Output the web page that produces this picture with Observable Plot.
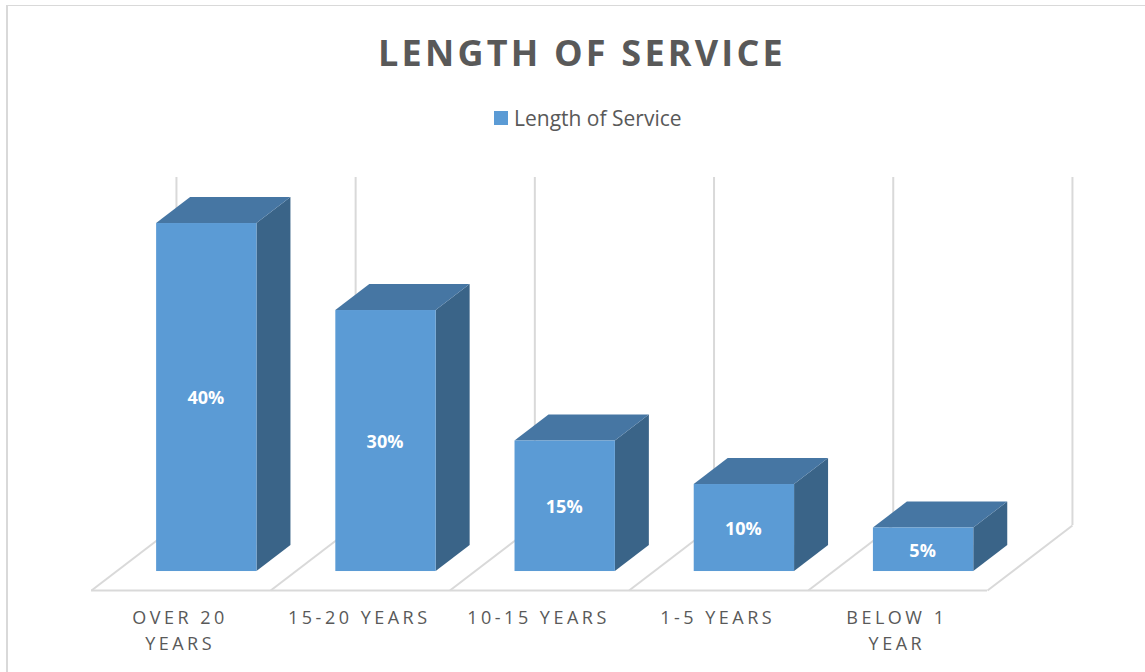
<!DOCTYPE html>
<html>
<head>
<meta charset="utf-8">
<script src="https://cdn.jsdelivr.net/npm/d3@7"></script>
<script src="https://cdn.jsdelivr.net/npm/@observablehq/plot@0.6"></script>
<style>
  html, body { margin: 0; padding: 0; background: #fff; overflow: hidden; }
  #frame { position: relative; width: 1145px; height: 672px; font-family: "Open Sans", sans-serif; overflow: hidden; }
  #frame .edge-top { position: absolute; left: 6px; right: 0; top: 5px; height: 1px; background: #d9d9d9; }
  #frame .edge-left { position: absolute; left: 6px; top: 5px; bottom: 0; width: 2px; background: #d9d9d9; }
  #title { position: absolute; left: 182px; width: 800px; top: 29px; text-align: center; font-size: 36px; line-height: 48px; font-weight: 700; letter-spacing: 3.2px; color: #595959; }
  #legend { position: absolute; left: 494px; top: 104px; height: 28px; display: flex; align-items: center; font-size: 21px; color: #595959; white-space: nowrap; }
  #legend i { display: block; width: 14px; height: 14px; background: #5b9bd5; margin-right: 6px; }
  #chart { position: absolute; left: 0; top: 160px; }
  #chart svg { display: block; overflow: visible; }
</style>
</head>
<body>
<div id="frame">
  <div class="edge-top"></div>
  <div class="edge-left"></div>
  <div id="title">LENGTH OF SERVICE</div>
  <div id="legend"><i></i><span>Length of Service</span></div>
  <div id="chart"></div>
</div>
<script>
const categories = ["OVER 20\nYEARS", "15-20 YEARS", "10-15 YEARS", "1-5 YEARS", "BELOW 1\nYEAR"];
const values = [40, 30, 15, 10, 5];
const gridlines = [0, 1, 2, 3, 4, 5];

// Oblique projection of the 3-D box: depth d (0 = front of floor, 1 = back wall)
const skewX = 0.474;      // category units per unit of depth
const skewY = 7.47;       // percentage points per unit of depth
const barLeft = 0.225;    // bar offset inside its category band, at its own depth
const barRight = 0.785;
const barFront = 0.292;   // depth of a bar's front face
const barBack = 0.692;    // depth of a bar's back face
const wallTop = 40;       // wall height in percentage points

const px = (cat, d) => cat + skewX * d;
const py = (val, d) => val + skewY * d;

const bars = values.map((value, i) => ({i, value, label: categories[i]}));

const sideFace = bars.flatMap(b => [barFront, barBack].map(d => ({
  key: b.i, x: px(b.i + barRight, d), y1: py(0, d), y2: py(b.value, d)
})));
const topFace = bars.flatMap(b => [barFront, barBack].map(d => ({
  key: b.i, y: py(b.value, d), x1: px(b.i + barLeft, d), x2: px(b.i + barRight, d)
})));

const chart = Plot.plot({
  width: 1145,
  height: 512,
  margin: 0,
  x: {type: "linear", domain: [0, 5], range: [91, 987], axis: null},
  y: {type: "linear", domain: [0, 50], range: [430, -5], axis: null},
  marks: [
    // back wall verticals
    Plot.ruleX(gridlines, {x: g => px(g, 1), y1: py(0, 1), y2: py(wallTop, 1), stroke: "#d9d9d9", strokeWidth: 2}),
    // floor diagonals
    Plot.link(gridlines, {x1: g => px(g, 0), y1: py(0, 0), x2: g => px(g, 1), y2: py(0, 1), stroke: "#d9d9d9", strokeWidth: 2}),
    // floor front edge
    Plot.ruleY([0], {x1: 0, x2: 5, stroke: "#d9d9d9", strokeWidth: 2}),
    // bar faces
    Plot.areaY(sideFace, {x: "x", y1: "y1", y2: "y2", z: "key", fill: "#3a6488"}),
    Plot.areaX(topFace, {y: "y", x1: "x1", x2: "x2", z: "key", fill: "#4676a3"}),
    Plot.rect(bars, {
      x1: b => px(b.i + barLeft, barFront),
      x2: b => px(b.i + barRight, barFront),
      y1: py(0, barFront),
      y2: b => py(b.value, barFront),
      fill: "#5b9bd5"
    }),
    // data labels
    Plot.text(bars, {
      x: b => px(b.i + (barLeft + barRight) / 2, barFront),
      y: b => py(b.value / 2, barFront),
      text: b => `${b.value}%`,
      fill: "#fff",
      fontSize: 18,
      fontWeight: 700,
      dx: -1,
      dy: 1
    }),
    // category labels
    Plot.text(bars, {
      x: b => b.i + 0.5,
      y: 0,
      text: "label",
      dx: -1,
      dy: 16,
      lineAnchor: "top",
      lineHeight: 1.4,
      fill: "#595959",
      fontSize: 18
    })
  ]
});
chart.querySelectorAll("text").forEach(t => {
  if (/[A-Z]/.test(t.textContent)) t.style.letterSpacing = "3.5px";
});
d3.select(chart).style("font-family", '"Open Sans", sans-serif').style("background", "transparent");
document.getElementById("chart").appendChild(chart);
</script>
</body>
</html>
